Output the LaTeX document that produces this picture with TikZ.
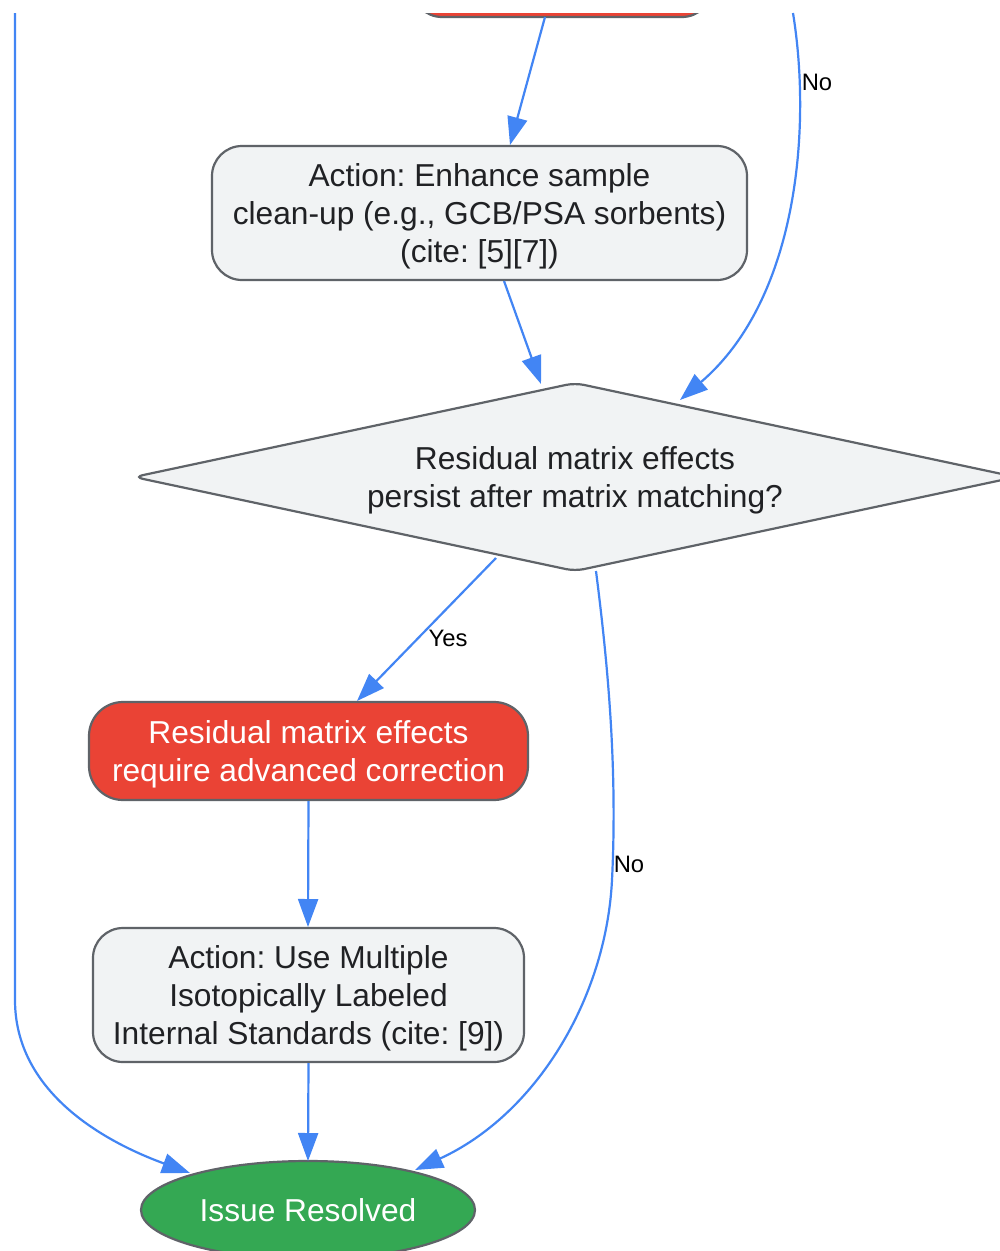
\documentclass[tikz,border=0pt]{standalone}
\usepackage{fontspec}
\setmainfont{Liberation Sans}
\usetikzlibrary{arrows.meta,shapes.geometric}
\definecolor{edgeblue}{HTML}{4285F4}
\definecolor{nodegray}{HTML}{5F6368}
\definecolor{nodefill}{HTML}{F1F3F4}
\definecolor{nodered}{HTML}{EA4335}
\definecolor{nodegreen}{HTML}{34A853}
\definecolor{textdark}{HTML}{202124}
\frenchspacing
\begin{document}
\begin{tikzpicture}[x=1pt,y=-1pt,
  box/.style={draw=nodegray,fill=nodefill,line width=2.2pt,rounded corners=30pt,inner sep=0pt},
  redbox/.style={box,fill=nodered},
  txt/.style={align=center,text=textdark,font=\fontsize{31.7}{38}\selectfont\frenchspacing,inner sep=0pt},
  wtxt/.style={txt,text=white},
  edge/.style={draw=edgeblue,line width=2.2pt,-{Triangle[length=28pt,width=20pt]}},
  lbl/.style={font=\fontsize{23.8}{28}\selectfont,text=black,inner sep=0pt}]
\useasboundingbox (0,0) rectangle (1000,1251);
\clip (0,0) rectangle (1000,1251);
\fill[white] (0,0) rectangle (1000,1251);

% previous (cut-off) node
\begin{scope}
\clip (0,13) rectangle (1000,1251);
\node[redbox,minimum width=300pt,minimum height=80pt] (prev) at (562,-23) {};
\end{scope}

% nodes
\node[box,minimum width=535pt,minimum height=134pt] (box1) at (479.5,213) {};
\node[txt] (box1t) at (479.5,216)
  {Action: Enhance sample\\clean-up (e.g., GCB/PSA sorbents)\\(cite: [5][7])};

\draw[draw=nodegray,fill=nodefill,line width=2.2pt,rounded corners=9pt]
  (134,477) -- (575,383) -- (1016,477) -- (575,571) -- cycle;
\node[txt] (dec) at (575,480)
  {Residual matrix effects\\persist after matrix matching?};

\node[redbox,minimum width=439pt,minimum height=98pt,rounded corners=34pt] (red2) at (308.5,751) {};
\node[wtxt] (red2t) at (308.5,754)
  {Residual matrix effects\\require advanced correction};

\node[box,minimum width=431pt,minimum height=134pt] (box3) at (308.5,995) {};
\node[txt] (box3t) at (308.5,998.5)
  {Action: Use Multiple\\Isotopically Labeled\\Internal Standards (cite: [9])};

\node[ellipse,draw=nodegray,fill=nodegreen,line width=2.2pt,text=white,font=\fontsize{31.7}{38}\selectfont,inner sep=0pt,minimum width=334pt,minimum height=98pt] (done) at (308,1210)
  {Issue Resolved};

% connector end points
\coordinate (prevout) at (545,17);
\coordinate (box1in) at (510,145);
\coordinate (box1out) at (504,281);
\coordinate (decinA) at (541,384);
\coordinate (decinB) at (680,400);
\coordinate (noTop) at (793,13);
\coordinate (leftTop) at (15,13);
\coordinate (decoutY) at (496,558);
\coordinate (red2in) at (357,701);
\coordinate (decoutN) at (596,571);
\coordinate (doneinR) at (415,1170);
\coordinate (doneinL) at (190,1173);
\coordinate (doneinM) at (308,1161);
\coordinate (box3in) at (308,927);

% connectors
\draw[edge] (prevout) -- (box1in);
\draw[edge] (box1out) -- (decinA);
\draw[edge] (noTop) .. controls (812,130) and (797,300) .. (decinB);
\node[lbl] (lblNo1) at (817,82) {No};
\draw[edge] (decoutY) -- (red2in);
\node[lbl] (lblYes) at (448,638) {Yes};
\draw[edge] (red2.south) -- (box3in);
\draw[edge] (box3.south) -- (doneinM);
\draw[edge] (decoutN) .. controls (606,650) and (618,760) .. (612,880)
  .. controls (606,1000) and (535,1115) .. (doneinR);
\node[lbl] (lblNo2) at (629,864) {No};
\draw[edge] (leftTop) -- (15,1000) .. controls (15,1090) and (100,1140) .. (doneinL);
\end{tikzpicture}
\end{document}
